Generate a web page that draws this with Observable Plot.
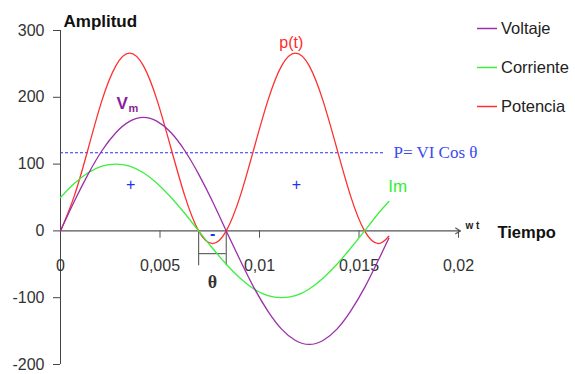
<!DOCTYPE html>
<html>
<head>
<meta charset="utf-8">
<script src="https://cdn.jsdelivr.net/npm/d3@7"></script>
<script src="https://cdn.jsdelivr.net/npm/@observablehq/plot@0.6"></script>
<style>
  html, body { margin: 0; padding: 0; background: #fff; }
  #wrap { position: relative; width: 575px; height: 374px; font-family: "Liberation Sans", Arial, sans-serif; }
  #legendbox { position: absolute; left: 474px; top: 0; }
</style>
</head>
<body>
<div id="wrap"></div>
<script>
// Time (s)
const time = [0, 0.00069, 0.00139, 0.00208, 0.00278, 0.00347, 0.00417, 0.00486, 0.00556, 0.00625,
  0.00694, 0.00764, 0.00833, 0.00903, 0.00972, 0.01042, 0.01111, 0.01181, 0.0125, 0.01319,
  0.01389, 0.01458, 0.01528, 0.01597, 0.0165];
// Voltaje
const voltage = [0, 44, 85, 120, 147, 164, 170, 164, 147, 120, 85, 44, 0, -44, -85, -120, -147, -164, -170, -164, -147, -120, -85, -44, -11];
// Corriente
const current = [50, 71, 87, 97, 100, 97, 87, 71, 50, 26, 0, -26, -50, -71, -87, -97, -100, -97, -87, -71, -50, -26, 0, 26, 44];
// Potencia
const power = [0, 52, 123, 195, 247, 266, 247, 195, 123, 52, 0, -19, 0, 52, 123, 195, 247, 266, 247, 195, 123, 52, 0, -19, -8];

const seriesNames = ["Voltaje", "Corriente", "Potencia"];
const seriesColors = ["#9b2fab", "#3cf03c", "#ff3030"];

const xTicks = [0, 0.005, 0.01, 0.015, 0.02];
const xTickLabels = ["0", "0,005", "0,01", "0,015", "0,02"];
const yTicks = [-200, -100, 0, 100, 200, 300];

const averagePower = [117];
const phaseEdges = [0.00694, 0.00833]; // current zero crossing, voltage zero crossing

const rows = time.map((t, k) => ({t, v: voltage[k], i: current[k], p: power[k]}));

const chart = Plot.plot({
  width: 575,
  height: 374,
  marginLeft: 60,
  marginRight: 117,
  marginTop: 30,
  marginBottom: 10,
  x: {domain: [0, 0.02], axis: null},
  y: {domain: [-200, 300], axis: null},
  style: {fontFamily: "'Liberation Sans', Arial, sans-serif", background: "transparent", overflow: "visible"},
  marks: [
    // y axis
    Plot.ruleX([0], {y1: () => -200, y2: () => 300, stroke: "#444", strokeWidth: 1}),
    Plot.axisY(yTicks, {tickSize: 7, tickPadding: 9, fontSize: 16, tickFormat: d => String(d), stroke: "#444", fill: "#333", label: null}),
    // x axis with arrow
    Plot.arrow([0], {x1: () => 0, y1: () => 0, x2: () => 0.0201, y2: () => 0, stroke: "#555", strokeWidth: 1.2, headLength: 7, bend: 0}),
    Plot.ruleX(xTicks.slice(1), {y1: () => 0, y2: () => -11, stroke: "#555"}),
    Plot.text(xTicks, {x: d => d, y: () => 0, dy: 35, text: (d, k) => xTickLabels[k], fontSize: 16, fill: "#333"}),
    // average power line
    Plot.ruleY(averagePower, {x1: () => 0, x2: () => 0.01633, stroke: "#2233ff", strokeDasharray: "3,2", strokeWidth: 1.1}),
    Plot.text(averagePower, {x: () => 0.01673, y: d => d, text: () => "P= VI Cos θ", textAnchor: "start", fontFamily: "'Liberation Serif', 'Times New Roman', serif", fontSize: 17, fill: "#3b4cf0"}),
    // phase bracket
    Plot.ruleX(phaseEdges, {y1: () => 0, y2: () => -52, stroke: "#666", strokeWidth: 1.2}),
    Plot.ruleY([-34], {x1: () => phaseEdges[0], x2: () => phaseEdges[1], stroke: "#666", strokeWidth: 1.2}),
    Plot.text(["θ"], {x: () => 0.00764, y: () => -77, text: d => d, fontFamily: "'Liberation Serif', 'Times New Roman', serif", fontWeight: "bold", fontSize: 18, fill: "#333"}),
    // curves
    Plot.line(rows, {x: "t", y: "p", curve: "natural", stroke: seriesColors[2], strokeWidth: 1.3}),
    Plot.line(rows, {x: "t", y: "i", curve: "natural", stroke: seriesColors[1], strokeWidth: 1.3}),
    Plot.line(rows, {x: "t", y: "v", curve: "natural", stroke: seriesColors[0], strokeWidth: 1.3}),
    // annotations
    Plot.text(["+"], {x: () => 0.00352, y: () => 69, text: d => d, fontSize: 16, fill: "#2233ee"}),
    Plot.text(["+"], {x: () => 0.01186, y: () => 69, text: d => d, fontSize: 16, fill: "#2233ee"}),
    Plot.text(["-"], {x: () => 0.00764, y: () => -5, text: d => d, fontSize: 16, fontWeight: "bold", fill: "#2233ee"}),
    Plot.text(["V"], {x: () => 0.0031, y: () => 190, text: d => d, fontSize: 17, fontWeight: "bold", fill: "#8a1f9a"}),
    Plot.text(["m"], {x: () => 0.00342, y: () => 183, text: d => d, textAnchor: "start", fontSize: 11, fontWeight: "bold", fill: "#8a1f9a"}),
    Plot.text(["p(t)"], {x: () => 0.0116, y: () => 282, text: d => d, fontSize: 16, fill: "#ff2a2a"}),
    Plot.text(["Im"], {x: () => 0.01694, y: () => 66, text: d => d, fontSize: 17, fill: "#33ee33"}),
    Plot.text(["Amplitud"], {x: () => 0.00015, y: () => 313, text: d => d, textAnchor: "start", fontSize: 17, fontWeight: "bold", fill: "#111"}),
    Plot.text(["w t"], {x: () => 0.02035, y: () => 7, text: d => d, textAnchor: "start", fontSize: 10, fontWeight: "bold", fill: "#222"}),
    Plot.text(["Tiempo"], {x: () => 0.02196, y: () => -3, text: d => d, textAnchor: "start", fontSize: 16.5, fontWeight: "bold", fill: "#111"})
  ]
});

const wrap = document.getElementById("wrap");
wrap.appendChild(chart);

// legend (outside the plot frame, top right)
const legendSvg = d3.create("svg")
  .attr("id", "legendbox")
  .attr("width", 101)
  .attr("height", 130);
const legendRowY = [28, 67, 106];
const items = legendSvg.selectAll("g")
  .data(seriesNames)
  .join("g")
  .attr("transform", (d, k) => `translate(0,${legendRowY[k]})`);
items.append("line")
  .attr("x1", 3).attr("x2", 23).attr("y1", 0.5).attr("y2", 0.5)
  .attr("stroke", (d, k) => seriesColors[k])
  .attr("stroke-width", 1.5);
items.append("text")
  .attr("x", 27).attr("y", 0).attr("dy", "0.35em")
  .attr("font-family", "'Liberation Sans', Arial, sans-serif")
  .attr("font-size", 16.5)
  .attr("fill", "#222")
  .text(d => d);
wrap.appendChild(legendSvg.node());
</script>
</body>
</html>
